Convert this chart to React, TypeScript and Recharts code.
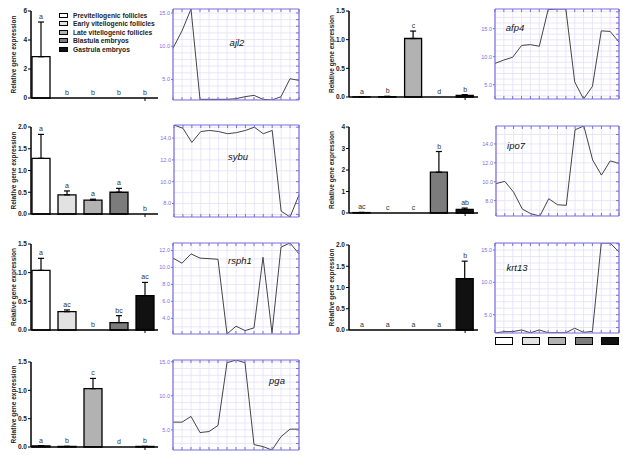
import {
  Bar,
  CartesianGrid,
  Cell,
  ComposedChart,
  ErrorBar,
  Line,
  LineChart,
  Scatter,
  XAxis,
  YAxis,
} from "recharts";

const stages = [
  "Previtellogenic follicles",
  "Early vitellogenic follicles",
  "Late vitellogenic follicles",
  "Blastula embryos",
  "Gastrula embryos",
];

// qPCR: mean, upper SEM, letters
const ajl2Mean = [2.85, 0, 0, 0, 0];
const ajl2Err = [2.39, 0, 0, 0, 0];
const ajl2Sig = ["a", "b", "b", "b", "b"];
const ajl2Ticks = [0, 2, 4, 6];

const afp4Mean = [0.003, 0.008, 1.02, 0, 0.03];
const afp4Err = [0.002, 0.004, 0.13, 0, 0.01];
const afp4Sig = ["a", "b", "c", "d", "b"];
const afp4Ticks = [0, 0.5, 1, 1.5];

const sybuMean = [1.28, 0.44, 0.32, 0.5, 0];
const sybuErr = [0.55, 0.09, 0.02, 0.09, 0];
const sybuSig = ["a", "a", "a", "a", "b"];
const sybuTicks = [0, 0.5, 1, 1.5, 2];

const ipo7Mean = [0.02, 0, 0, 1.9, 0.17];
const ipo7Err = [0.01, 0, 0, 0.96, 0.06];
const ipo7Sig = ["ac", "c", "c", "b", "ab"];
const ipo7Ticks = [0, 1, 2, 3, 4];

const rsph1Mean = [1.04, 0.32, 0, 0.13, 0.6];
const rsph1Err = [0.21, 0.03, 0, 0.12, 0.23];
const rsph1Sig = ["a", "ac", "b", "bc", "ac"];
const rsph1Ticks = [0, 0.5, 1, 1.5];

const krt13Mean = [0, 0, 0, 0, 1.21];
const krt13Err = [0, 0, 0, 0, 0.41];
const krt13Sig = ["a", "a", "a", "a", "b"];
const krt13Ticks = [0, 0.5, 1, 1.5, 2];

const pgaMean = [0.02, 0.01, 1.03, 0, 0.01];
const pgaErr = [0.005, 0, 0.18, 0, 0];
const pgaSig = ["a", "b", "c", "d", "b"];
const pgaTicks = [0, 0.5, 1, 1.5];

// microarray profiles (log2 signal)
const ajl2Profile = [9.7, 12.3, 15.6, 2.0, 2.0, 2.0, 2.0, 2.1, 2.4, 2.6, 2.0, 1.9, 2.4, 5.1, 4.85];
const afp4Profile = [8.8, 9.4, 9.9, 12.0, 12.15, 11.85, 18.4, 18.5, 18.5, 5.5, 2.45, 4.7, 14.6, 14.5, 12.6];
const sybuProfile = [15.2, 14.9, 13.6, 14.6, 14.7, 14.6, 14.4, 14.5, 14.7, 15.0, 14.4, 14.7, 7.3, 6.76, 8.8];
const ipo7Profile = [9.8, 10.04, 8.9, 7.1, 6.6, 6.37, 8.2, 7.56, 7.5, 15.5, 15.9, 12.3, 10.7, 12.2, 11.95];
const rsph1Profile = [11.1, 10.5, 11.6, 11.1, 11.04, 10.96, 2.16, 3.08, 2.56, 2.88, 11.2, 2.28, 12.4, 12.88, 11.6];
const krt13Profile = [2.16, 2.37, 2.37, 2.63, 2.2, 2.63, 2.2, 2.2, 2.2, 2.9, 2.26, 2.42, 16.1, 16.1, 14.7];
const pgaProfile = [6.13, 6.13, 6.97, 4.6, 4.75, 5.64, 14.85, 15.25, 14.85, 2.83, 2.54, 2.04, 4.0, 5.1, 5.1];

const fiveTicks = [5, 10, 15];
const twoTicks = [8, 10, 12, 14];
const rsph1ProfileTicks = [4, 6, 8, 10, 12];

const stageFills = ["#ffffff", "#e2e2e2", "#b2b2b2", "#7c7c7c", "#111111"];
const font = '"Liberation Sans", Arial, sans-serif';
const frame = "#7b6fe0";

const noLabel = () => <g />;

function minorSteps(lo: number, hi: number) {
  const out: number[] = [];
  for (let v = Math.ceil(lo); v <= hi; v += 1) out.push(v);
  return out;
}

function ExpressionBars({ mean, err, sig, yTicks, decimals, axisX, plotTop, plotBottom, plotWidth, barSize, padLeft }: any) {
  const data = stages.map((stage, i) => ({
    stage,
    mean: mean[i],
    err: [0, err[i]],
    top: mean[i] + err[i],
    sig: sig[i],
  }));
  const mTop = 12;
  const axisH = 10;
  return (
    <div style={{ position: "absolute", left: axisX - 31, top: plotTop - mTop }}>
      <ComposedChart
        width={31 + plotWidth + 6}
        height={plotBottom - plotTop + mTop + axisH}
        data={data}
        margin={{ top: mTop, right: 6, bottom: 0, left: 0 }}
      >
        <XAxis
          dataKey="stage"
          height={axisH}
          tick={noLabel}
          tickSize={3}
          tickLine={{ stroke: "#000" }}
          axisLine={{ stroke: "#000", strokeWidth: 1.5 }}
          padding={{ left: padLeft, right: 0 }}
        />
        <YAxis
          width={31}
          domain={[yTicks[0], yTicks[yTicks.length - 1]]}
          ticks={yTicks}
          interval={0}
          tickFormatter={(v: number) => v.toFixed(decimals)}
          tick={{ fontSize: 6.5, fontWeight: "bold", fill: "#222", fontFamily: font }}
          tickSize={3}
          tickMargin={1}
          tickLine={{ stroke: "#000" }}
          axisLine={{ stroke: "#000", strokeWidth: 1.5 }}
          label={{
            content: (p: any) => {
              const vb = p.viewBox;
              const x = vb.x + 16;
              const y = vb.y + vb.height / 2;
              return (
                <text
                  x={x}
                  y={y}
                  transform={`rotate(-90 ${x} ${y})`}
                  textAnchor="middle"
                  fontSize={6.5}
                  fontWeight="bold"
                  fill="#222"
                  fontFamily={font}
                >
                  Relative gene expression
                </text>
              );
            },
          }}
        />
        <Bar dataKey="mean" barSize={barSize} stroke="#000" strokeWidth={1.3} isAnimationActive={false}>
          {data.map((d, i) => (
            <Cell key={d.stage} fill={stageFills[i]} />
          ))}
          <ErrorBar dataKey="err" width={3} stroke="#000" strokeWidth={1.2} direction="y" isAnimationActive={false} />
        </Bar>
        <Scatter
          dataKey="top"
          isAnimationActive={false}
          shape={(p: any) => (
            <text
              x={p.cx}
              y={p.cy - 3}
              textAnchor="middle"
              fontSize={7}
              fontFamily={font}
              style={{ fill: "#333", stroke: "none" }}
            >
              {p.payload.sig}
            </text>
          )}
        />
      </ComposedChart>
    </div>
  );
}

function Profile({ values, ticks, left, top, width, height, name, nameX, nameY }: any) {
  const data = values.map((v: number, i: number) => ({ t: i + 1, v }));
  const domain = [Math.min(...values), Math.max(...values)];
  const grid = minorSteps(domain[0], domain[1]);
  return (
    <div style={{ position: "absolute", left: left - 26, top: top - 5 }}>
      <LineChart width={width + 31} height={height + 10} data={data} margin={{ top: 4, right: 4, bottom: 4, left: 0 }}>
        <CartesianGrid xAxisId="b" yAxisId="l" stroke="#e4e0f8" strokeWidth={0.8} horizontalValues={grid} />
        <XAxis
          xAxisId="b"
          dataKey="t"
          orientation="bottom"
          height={1}
          mirror
          interval={0}
          tick={noLabel}
          tickSize={3}
          tickLine={{ stroke: frame }}
          axisLine={{ stroke: frame, strokeWidth: 1.2 }}
        />
        <XAxis
          xAxisId="top"
          dataKey="t"
          orientation="top"
          height={1}
          mirror
          interval={0}
          tick={noLabel}
          tickSize={3}
          tickLine={{ stroke: frame }}
          axisLine={{ stroke: frame, strokeWidth: 1.2 }}
        />
        <YAxis
          yAxisId="l"
          width={26}
          domain={domain}
          allowDataOverflow
          ticks={ticks}
          interval={0}
          tickFormatter={(v: number) => v.toFixed(1)}
          tick={{ fontSize: 5.5, fill: frame, fontFamily: font }}
          tickSize={2}
          tickMargin={1}
          tickLine={{ stroke: frame }}
          axisLine={{ stroke: frame, strokeWidth: 1.2 }}
        />
        <YAxis
          yAxisId="r"
          orientation="right"
          width={1}
          mirror
          domain={domain}
          allowDataOverflow
          ticks={grid}
          interval={0}
          tick={noLabel}
          tickSize={3}
          tickLine={{ stroke: frame }}
          axisLine={{ stroke: frame, strokeWidth: 1.2 }}
        />
        <Line
          xAxisId="b"
          yAxisId="l"
          dataKey="v"
          type="linear"
          stroke="#444"
          strokeWidth={1}
          dot={false}
          isAnimationActive={false}
        />
      </LineChart>
      <div
        style={{
          position: "absolute",
          left: nameX - left + 26,
          top: nameY - top + 5,
          transform: "translate(-50%, -50%)",
          fontStyle: "italic",
          fontSize: 9.5,
          fontFamily: font,
          color: "#111",
          whiteSpace: "nowrap",
        }}
      >
        {name}
      </div>
    </div>
  );
}

export default function App() {
  const left = { axisX: 31, plotWidth: 127, barSize: 18, padLeft: -3 };
  const right = { axisX: 349, plotWidth: 129, barSize: 17, padLeft: 0 };
  return (
    <div
      style={{
        position: "absolute",
        left: 0,
        top: 0,
        width: 623,
        height: 455,
        overflow: "hidden",
        background: "#fff",
        fontFamily: font,
      }}
    >
      <ExpressionBars mean={ajl2Mean} err={ajl2Err} sig={ajl2Sig} yTicks={ajl2Ticks} decimals={0} plotTop={11} plotBottom={98} {...left} />
      <ExpressionBars mean={afp4Mean} err={afp4Err} sig={afp4Sig} yTicks={afp4Ticks} decimals={1} plotTop={11} plotBottom={97} {...right} />
      <ExpressionBars mean={sybuMean} err={sybuErr} sig={sybuSig} yTicks={sybuTicks} decimals={1} plotTop={127} plotBottom={214} {...left} />
      <ExpressionBars mean={ipo7Mean} err={ipo7Err} sig={ipo7Sig} yTicks={ipo7Ticks} decimals={0} plotTop={127} plotBottom={213} {...right} />
      <ExpressionBars mean={rsph1Mean} err={rsph1Err} sig={rsph1Sig} yTicks={rsph1Ticks} decimals={1} plotTop={244} plotBottom={330} {...left} />
      <ExpressionBars mean={krt13Mean} err={krt13Err} sig={krt13Sig} yTicks={krt13Ticks} decimals={1} plotTop={245} plotBottom={330} {...right} />
      <ExpressionBars mean={pgaMean} err={pgaErr} sig={pgaSig} yTicks={pgaTicks} decimals={1} plotTop={362} plotBottom={447} {...left} />

      <Profile values={ajl2Profile} ticks={fiveTicks} left={173} top={10} width={125} height={89} name="ajl2" nameX={237} nameY={42} />
      <Profile values={afp4Profile} ticks={fiveTicks} left={495} top={10} width={123} height={88} name="afp4" nameX={515} nameY={27} />
      <Profile values={sybuProfile} ticks={twoTicks} left={174} top={126} width={124} height={90} name="sybu" nameX={238} nameY={156} />
      <Profile values={ipo7Profile} ticks={twoTicks} left={496} top={127} width={122} height={88} name="ipo7" nameX={516} nameY={145} />
      <Profile values={rsph1Profile} ticks={rsph1ProfileTicks} left={173} top={244} width={125} height={89} name="rsph1" nameX={240} nameY={260} />
      <Profile values={krt13Profile} ticks={fiveTicks} left={495} top={244} width={123} height={88} name="krt13" nameX={517} nameY={267} />
      <Profile values={pgaProfile} ticks={fiveTicks} left={173} top={361} width={125} height={88} name="pga" nameX={277} nameY={380} />

      <div style={{ position: "absolute", left: 59, top: 10.75 }}>
        {stages.map((s, i) => (
          <div key={s} style={{ display: "flex", alignItems: "center", height: 8.5 }}>
            <span
              style={{
                display: "inline-block",
                width: 9,
                height: 5,
                border: "1px solid #000",
                boxSizing: "border-box",
                background: stageFills[i],
              }}
            />
            <span style={{ marginLeft: 5, fontSize: 6.7, fontWeight: "bold", color: "#222", whiteSpace: "nowrap" }}>{s}</span>
          </div>
        ))}
      </div>

      <div style={{ position: "absolute", left: 495, top: 337, display: "flex", gap: 8.5 }}>
        {stages.map((s, i) => (
          <span
            key={s}
            title={s}
            style={{
              display: "inline-block",
              width: 18,
              height: 8,
              border: "1.5px solid #000",
              boxSizing: "border-box",
              background: stageFills[i],
            }}
          />
        ))}
      </div>
    </div>
  );
}
